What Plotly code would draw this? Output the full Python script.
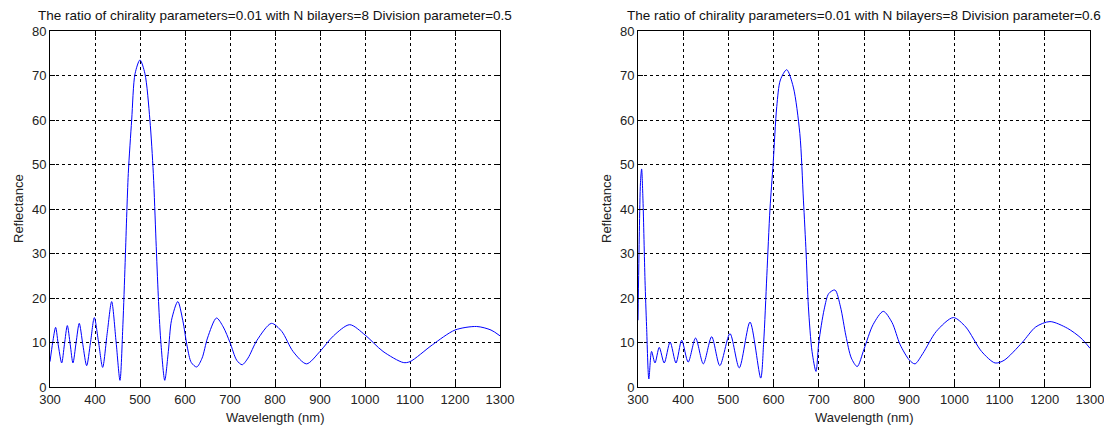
import plotly.graph_objects as go

# Left panel: Division parameter = 0.5
wl_a = [300, 306, 312.5, 319, 326, 332, 338.5, 345, 351, 358, 365, 373, 381.5, 390, 398.5,
        408, 417, 427, 437, 447, 455.5, 462, 467, 474, 481.5, 489, 500, 511, 522, 529.6,
        535.5, 540.7, 546, 555, 563, 570, 584, 595, 605, 614, 626, 638, 650, 670, 685,
        700, 715, 727, 740, 760, 792, 815, 840, 870, 900, 930, 966, 1000, 1040, 1085,
        1100, 1150, 1200, 1248, 1280, 1300]
refl_a = [5.7, 10, 13.4, 9, 5.4, 9.5, 13.8, 9.5, 5.4, 10, 14.3, 9.5, 4.8, 10, 15.6,
          10, 4.4, 12, 19.2, 10, 1.5, 14, 28, 48, 60, 70.4, 73.5, 70.4, 60, 48,
          33, 20.3, 10.6, 1.5, 8, 15, 19.2, 15, 9, 5.5, 4.5, 6.5, 11, 15.5, 13.5,
          10, 6, 5.0, 6.5, 10.5, 14.3, 12.5, 8, 5.2, 8, 11.5, 14.0, 11.7, 8, 5.5,
          5.7, 9.5, 12.8, 13.6, 12.8, 11.5]

# Right panel: Division parameter = 0.6
wl_b = [300, 303, 305.5, 308, 311, 315.5, 319, 324, 330, 337.6, 347, 358, 371, 384, 396.7,
        411, 427.4, 444.5, 463, 481, 503.5, 524, 547.8, 571.5, 578, 585, 592, 599, 607,
        615, 629, 643.6, 658, 666, 672, 677, 685, 693.8, 700, 712, 722, 735.8, 748, 760,
        772, 785, 800, 820, 842.7, 862, 880, 900, 912.8, 930, 960, 997.6, 1025, 1060,
        1090, 1110, 1150, 1180, 1211.5, 1250, 1280, 1300]
refl_b = [15, 35, 46, 49, 42, 24, 13.6, 1.8, 8.0, 5.4, 8.9, 5.4, 10.1, 5.4, 10.5,
          5.6, 11.0, 5.2, 11.3, 4.8, 12.0, 4.3, 14.6, 2.0, 10, 25, 40, 50.2, 63,
          69, 71.3, 67.4, 57, 42, 30, 18, 8, 3.5, 10, 17.5, 21, 21.8, 18, 11.5,
          6.5, 4.6, 8.5, 14, 17.0, 14.5, 9.5, 6.1, 5.2, 7.5, 12.5, 15.6, 13.5, 8,
          5.4, 6, 10, 13.5, 14.7, 13.2, 11, 8.7]

titles = ["The ratio of chirality parameters=0.01 with N bilayers=8 Division parameter=0.5",
          "The ratio of chirality parameters=0.01 with N bilayers=8 Division parameter=0.6"]
x_ticks = list(range(300, 1301, 100))
y_ticks = list(range(0, 81, 10))

W, H = 1104, 429
FONT = "Liberation Sans, Arial, sans-serif"
FS = 13

fig = go.Figure()
fig.add_trace(go.Scatter(x=wl_a, y=refl_a, mode="lines", line=dict(color="#0000ff", width=1, shape="spline", smoothing=0.8),
                         xaxis="x", yaxis="y", showlegend=False))
fig.add_trace(go.Scatter(x=wl_b, y=refl_b, mode="lines", line=dict(color="#0000ff", width=1, shape="spline", smoothing=0.8),
                         xaxis="x2", yaxis="y2", showlegend=False))

px_dom = [(50, 500), (638, 1090)]
y_dom = [(H - 387) / H, (H - 31) / H]

common = dict(showline=True, linecolor="black", linewidth=1, mirror="allticks",
              ticks="inside", ticklen=5, tickcolor="black",
              showgrid=True, gridcolor="black", gridwidth=1, griddash="3px,3px",
              zeroline=False, automargin=False, ticklabeloverflow="allow",
              tickfont=dict(size=FS, color="#222", family=FONT))

def xa(i):
    d = px_dom[i]
    return dict(domain=[d[0] / W, d[1] / W], range=[300, 1300], tickvals=x_ticks,
                anchor="y" if i == 0 else "y2", **common)

def ya(i):
    return dict(domain=list(y_dom), range=[0, 80], tickvals=y_ticks,
                anchor="x" if i == 0 else "x2", **common)

annotations = []
for i, (a, b) in enumerate(px_dom):
    cx = (a + b) / 2
    annotations.append(dict(text=titles[i], x=cx / W, y=1 - 15 / H, xref="paper", yref="paper",
                            xanchor="center", yanchor="middle", showarrow=False,
                            font=dict(size=13.5, color="#111", family=FONT)))
    annotations.append(dict(text="Wavelength (nm)", x=cx / W, y=1 - 417 / H, xref="paper", yref="paper",
                            xanchor="center", yanchor="middle", showarrow=False,
                            font=dict(size=FS, color="#222", family=FONT)))
    annotations.append(dict(text="Reflectance", x=(a - 32) / W, y=1 - 209 / H, xref="paper", yref="paper",
                            xanchor="center", yanchor="middle", showarrow=False, textangle=-90,
                            font=dict(size=FS, color="#222", family=FONT)))

fig.update_layout(width=W, height=H, margin=dict(l=0, r=0, t=0, b=0, autoexpand=False),
                  template="none",
                  paper_bgcolor="white", plot_bgcolor="white",
                  xaxis=xa(0), yaxis=ya(0), xaxis2=xa(1), yaxis2=ya(1),
                  annotations=annotations, font=dict(family=FONT))
fig.write_html("out.html", config={"displayModeBar": False},
               post_script="document.body.style.margin='0px';document.body.style.overflow='hidden';")
